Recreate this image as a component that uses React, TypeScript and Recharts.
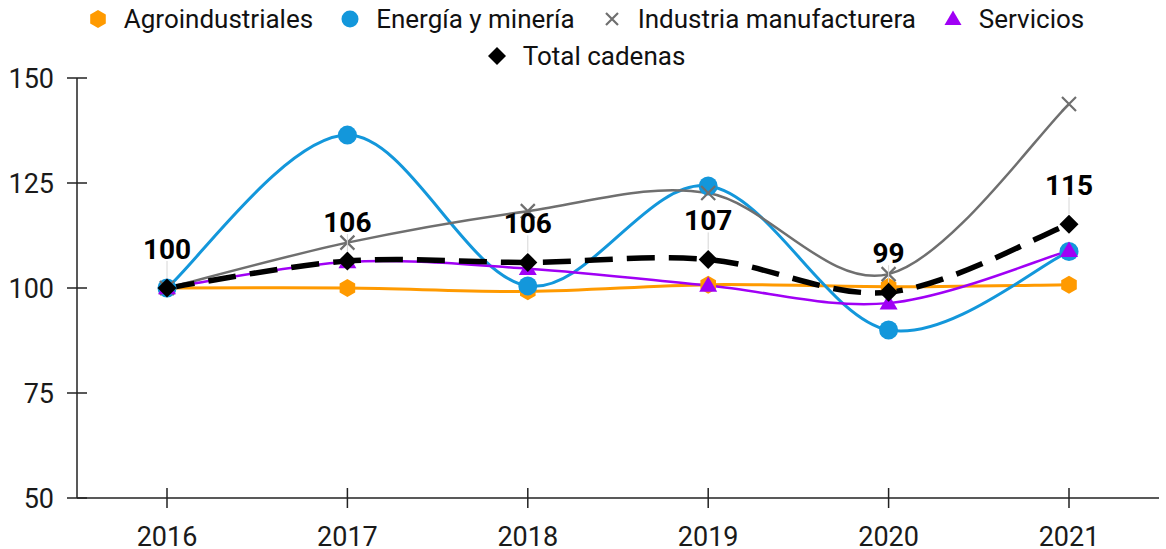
import { LineChart, Line, XAxis, YAxis, LabelList } from 'recharts';

const years = ['2016', '2017', '2018', '2019', '2020', '2021'];
const agroindustriales = [100, 100, 99.2, 100.8, 100.3, 100.8];
const energiaMineria = [100, 136.4, 100.5, 124.3, 90, 108.7];
const industriaManufacturera = [100, 110.8, 118.3, 122.6, 103.3, 143.8];
const servicios = [100, 106.2, 104.6, 100.6, 96.4, 108.9];
const totalCadenas = [100, 106.4, 106.1, 106.8, 99, 115.2];
const yTicks = [50, 75, 100, 125, 150];

const data = years.map((year, i) => ({
  year,
  agro: agroindustriales[i],
  energia: energiaMineria[i],
  industria: industriaManufacturera[i],
  servicios: servicios[i],
  total: totalCadenas[i],
}));

const FONT = 'Roboto, "Noto Sans", sans-serif';
const AXIS_X = 77;

// catmull-rom style smoothing, passes through every point
const smoothCurve = (context: any) => {
  let pts: number[][] = [];
  return {
    areaStart() {},
    areaEnd() {},
    lineStart() { pts = []; },
    point(x: number, y: number) { pts.push([+x, +y]); },
    lineEnd() {
      if (!pts.length) return;
      context.moveTo(pts[0][0], pts[0][1]);
      for (let i = 0; i < pts.length - 1; i++) {
        const p0 = pts[i - 1] || pts[i];
        const p1 = pts[i];
        const p2 = pts[i + 1];
        const p3 = pts[i + 2] || p2;
        context.bezierCurveTo(
          p1[0] + (p2[0] - p0[0]) / 6, p1[1] + (p2[1] - p0[1]) / 6,
          p2[0] - (p3[0] - p1[0]) / 6, p2[1] - (p3[1] - p1[1]) / 6,
          p2[0], p2[1]
        );
      }
    },
  };
};

const hexPath = (cx: number, cy: number, r: number) => {
  const p = [];
  for (let k = 0; k < 6; k++) {
    const a = (Math.PI / 3) * k - Math.PI / 2;
    p.push(`${cx + r * Math.cos(a)},${cy + r * Math.sin(a)}`);
  }
  return 'M' + p.join('L') + 'Z';
};

const Hexagon = ({ cx, cy, color, size }: any) => <path d={hexPath(cx, cy, size)} fill={color} />;
const Circle = ({ cx, cy, color, size }: any) => <circle cx={cx} cy={cy} r={size} fill={color} />;
const Cross = ({ cx, cy, color, size }: any) => (
  <path
    d={`M${cx - size},${cy - size}L${cx + size},${cy + size}M${cx + size},${cy - size}L${cx - size},${cy + size}`}
    stroke={color}
    strokeWidth={2.2}
    fill="none"
  />
);
const Triangle = ({ cx, cy, color, size }: any) => (
  <path d={`M${cx},${cy - size}L${cx + size},${cy + size * 0.7}L${cx - size},${cy + size * 0.7}Z`} fill={color} />
);
const Diamond = ({ cx, cy, color, size }: any) => (
  <path d={`M${cx},${cy - size}L${cx + size},${cy}L${cx},${cy + size}L${cx - size},${cy}Z`} fill={color} />
);

const series = [
  { key: 'agro', name: 'Agroindustriales', color: '#FF9A00', width: 3, Marker: Hexagon, size: 9, legendSize: 9 },
  { key: 'energia', name: 'Energía y minería', color: '#1397DB', width: 3, Marker: Circle, size: 9.5, legendSize: 8.5 },
  { key: 'industria', name: 'Industria manufacturera', color: '#6F6F6F', width: 2.5, Marker: Cross, size: 7, legendSize: 6 },
  { key: 'servicios', name: 'Servicios', color: '#A000F5', width: 2.5, Marker: Triangle, size: 9, legendSize: 8.5 },
  { key: 'total', name: 'Total cadenas', color: '#000000', width: 5.5, Marker: Diamond, size: 9.5, legendSize: 9, dash: '28 14' },
];

const YTick = ({ x, y, payload }: any) => (
  <g>
    <line x1={AXIS_X - 10} x2={AXIS_X + 10} y1={y} y2={y} stroke="#222" strokeWidth={1.5} />
    <text x={x} y={y} dx={-9} dy={10} textAnchor="end" fontSize={27} fill="#1a1a1a" fontFamily={FONT}>
      {payload.value}
    </text>
  </g>
);

const XTick = ({ x, y, payload }: any) => (
  <g>
    <line x1={x} x2={x} y1={y - 24} y2={y - 4} stroke="#222" strokeWidth={1.5} />
    <text x={x} y={y} dy={34} textAnchor="middle" fontSize={27} fill="#1a1a1a" fontFamily={FONT}>
      {payload.value}
    </text>
  </g>
);

const TotalLabel = ({ x, y, value }: any) => (
  <g>
    <line x1={x} x2={x} y1={y - 10} y2={y - 27} stroke="#d6d6d6" strokeWidth={1} />
    <text x={x} y={y - 29} textAnchor="middle" fontSize={28} fontWeight={700} fill="#000" fontFamily={FONT}>
      {Math.round(value)}
    </text>
  </g>
);

export default function App() {
  return (
    <div style={{ position: 'relative', width: 1166, height: 549, background: '#fff', fontFamily: FONT }}>
      <style>{`body{margin:0}`}</style>
      <div
        style={{
          position: 'absolute',
          top: 0,
          left: 56,
          width: 1060,
          display: 'flex',
          flexWrap: 'wrap',
          justifyContent: 'center',
          columnGap: 27,
        }}
      >
        {series.map((s) => {
          const M = s.Marker;
          return (
            <div key={s.key} style={{ display: 'flex', alignItems: 'center', height: 37, gap: 16 }}>
              <svg width={20} height={20} style={{ display: 'block' }}>
                <M cx={10} cy={10} color={s.color} size={s.legendSize} />
              </svg>
              <span style={{ fontSize: 26, color: '#111' }}>{s.name}</span>
            </div>
          );
        })}
      </div>
      <LineChart width={1166} height={549} data={data} margin={{ top: 78, right: 7, bottom: 0, left: 0 }}>
        <XAxis
          dataKey="year"
          padding={{ left: 90, right: 90 }}
          height={51}
          tickSize={10}
          tickLine={false}
          tickMargin={4}
          axisLine={{ stroke: '#222', strokeWidth: 1.5 }}
          tick={<XTick />}
          interval={0}
        />
        <YAxis
          domain={[50, 150]}
          ticks={yTicks}
          width={AXIS_X}
          tickSize={10}
          tickMargin={4}
          tickLine={false}
          axisLine={{ stroke: '#222', strokeWidth: 1.5 }}
          tick={<YTick />}
          interval={0}
        />
        {series.map((s) => {
          const M = s.Marker;
          return (
            <Line
              key={s.key}
              dataKey={s.key}
              name={s.name}
              type={smoothCurve as any}
              stroke={s.color}
              strokeWidth={s.width}
              strokeDasharray={s.dash}
              dot={(p: any) => (
                <M key={`${s.key}-${p.index}`} cx={p.cx} cy={p.cy} color={s.color} size={s.size} />
              )}
              activeDot={false}
              isAnimationActive={false}
            >
              {s.key === 'total' && <LabelList dataKey="total" content={<TotalLabel />} />}
            </Line>
          );
        })}
      </LineChart>
    </div>
  );
}
